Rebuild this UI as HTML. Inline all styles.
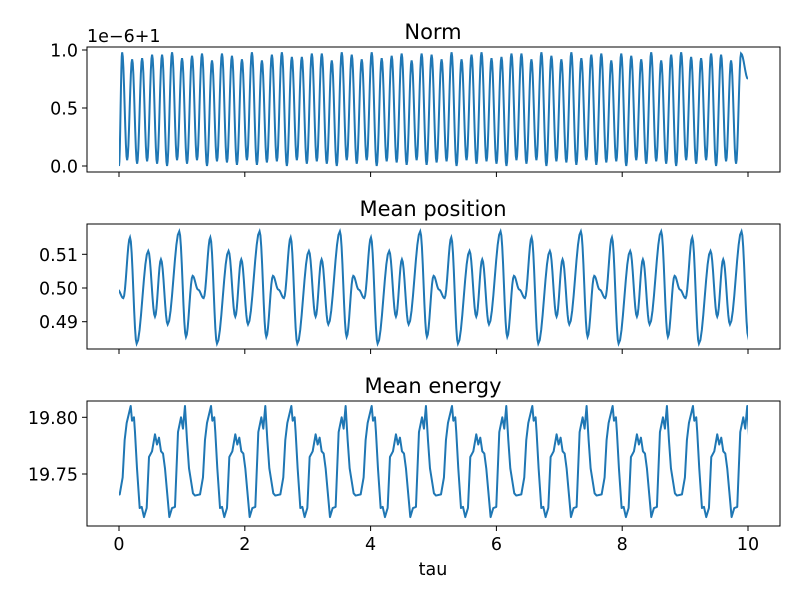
<!DOCTYPE html>
<html><head><meta charset="utf-8"><style>
body{margin:0;background:#fff}
svg{display:block;font-family:"DejaVu Sans","Liberation Sans",sans-serif}
</style></head><body>
<svg id="chart" width="800" height="600">
<defs>
<clipPath id="c1"><rect x="119" y="40" width="629" height="140"/></clipPath>
<clipPath id="c2"><rect x="119" y="220" width="629" height="140"/></clipPath>
<clipPath id="c3"><rect x="119" y="395" width="629" height="140"/></clipPath>
</defs>
</svg>
<script>
// Norm (units of 1e-6, offset +1)
const normPeaks=[0.98,0.92,0.93,0.96,0.96,0.98,0.93,0.95,0.97,0.91,0.97,0.95,0.92,0.98,0.91,0.96,0.98,0.94,0.94,0.97,0.97,0.91,0.98,0.96,0.92,0.98,0.93,0.95,0.97,0.91,0.97,0.96,0.92,0.98,0.92,0.96,0.98,0.93,0.94,0.97,0.97,0.92,0.98,0.95,0.92,0.98,0.93,0.96,0.97,0.91,0.97,0.95,0.92,0.98,0.91,0.96,0.98,0.94,0.93,0.97,0.96,0.91,0.97];
const normTroughs=[0.05,0.02,0.04,0.02,0.0,0.05,0.02,0.05,0.0,0.04,0.03,0.01,0.05,0.01,0.03,0.04,0.0,0.05,0.02,0.04,0.02,0.0,0.05,0.02,0.05,0.0,0.04,0.03,0.01,0.05,0.01,0.03,0.04,0.0,0.05,0.02,0.04,0.02,0.0,0.05,0.02,0.05,0.0,0.04,0.03,0.01,0.05,0.01,0.03,0.04,0.0,0.05,0.02,0.04,0.02,0.0,0.05,0.02,0.05,0.0,0.04,0.02];
const normStart=0.0, normEnd=0.75;
// Mean position: one repeating cycle (offset in tau, value)
const posOffsets=[0,0.107,0.213,0.397,0.504,0.599,0.706,0.890,0.997,1.103,1.19];
const posValues=[0.497,0.515,0.4835,0.511,0.4915,0.5085,0.4892,0.5168,0.4855,0.5036,0.4995];
const posCycleStarts=[-1.209,0.068,1.345,2.622,3.899,5.176,6.453,7.730,9.007,10.284];
// Mean energy: one repeating cycle
const enOffsets=[0,0.021,0.052,0.068,0.1,0.143,0.175,0.211,0.254,0.291,0.339,0.386,0.418,0.45,0.482,0.514,0.545,0.577,0.614,0.657,0.704,0.752,0.8,0.831,0.863,0.895,0.927,0.99,1.022,1.102,1.149,1.181,1.213];
const enValues=[19.81,19.797,19.80,19.787,19.755,19.72,19.721,19.712,19.72,19.765,19.77,19.785,19.776,19.782,19.77,19.768,19.755,19.735,19.712,19.72,19.721,19.787,19.80,19.79,19.81,19.78,19.755,19.733,19.731,19.732,19.747,19.78,19.795];
const enCycleStarts=[-1.091,0.186,1.463,2.740,4.017,5.294,6.571,7.848,9.125];
const xTicks=[0,2,4,6,8,10];
const normTicks=[0.0,0.5,1.0], normTickLabels=["0.0","0.5","1.0"];
const posTicks=[0.49,0.50,0.51], posTickLabels=["0.49","0.50","0.51"];
const enTicks=[19.75,19.80], enTickLabels=["19.75","19.80"];

const NS="http://www.w3.org/2000/svg", svg=document.getElementById('chart');
const L=87,R=780;
const xs=t=>119+t*62.9;
const panels=[
 {top:47,bot:172,y:v=>166-v*116,ticks:normTicks,labels:normTickLabels,title:"Norm",clip:"c1"},
 {top:224,bot:349,y:v=>288-(v-0.5)*3370,ticks:posTicks,labels:posTickLabels,title:"Mean position",clip:"c2"},
 {top:401,bot:526,y:v=>474-(v-19.75)*1134,ticks:enTicks,labels:enTickLabels,title:"Mean energy",clip:"c3"}];
function mk(tag,a,txt){const e=document.createElementNS(NS,tag);for(const k in a)e.setAttribute(k,a[k]);if(txt!=null)e.textContent=txt;svg.appendChild(e);return e;}
function smooth(pts,y){let d='';for(let i=0;i<pts.length;i++){const [t,v]=pts[i];if(i==0){d+='M'+xs(t).toFixed(2)+','+y(v).toFixed(2);continue;}const [t0,v0]=pts[i-1];for(let s=1;s<=8;s++){const f=s/8,g=(1-Math.cos(Math.PI*f))/2;d+=' L'+xs(t0+(t-t0)*f).toFixed(2)+','+y(v0+(v-v0)*g).toFixed(2);}}return d;}
function linear(pts,y){return pts.map((p,i)=>(i?'L':'M')+xs(p[0]).toFixed(2)+','+y(p[1]).toFixed(2)).join(' ');}

panels.forEach((p,pi)=>{
 const r=mk('rect',{x:L,y:p.top,width:R-L,height:p.bot-p.top,fill:'none',stroke:'#000','stroke-width':1});
 
 const t=mk('text',{x:433,y:p.top-8,'text-anchor':'middle','font-size':21},p.title);
 
 xTicks.forEach(v=>{const tk=mk('line',{x1:xs(v),x2:xs(v),y1:p.bot,y2:p.bot+5,stroke:'#000'});
  
  if(pi==2){const lb=mk('text',{x:xs(v),y:p.bot+24,'text-anchor':'middle','font-size':17.5},String(v));
   }});
 p.ticks.forEach((v,i)=>{const tk=mk('line',{x1:L-5,x2:L,y1:p.y(v),y2:p.y(v),stroke:'#000'});
  
  const lb=mk('text',{x:L-9,y:p.y(v)+6.5,'text-anchor':'end','font-size':17.5},p.labels[i]);
  });
});
const off=mk('text',{x:87,y:42,'font-size':17.5},'1e\u22126+1');

const xl=mk('text',{x:433,y:575,'text-anchor':'middle','font-size':17.5},'tau');


// norm series
const np=[[0,normStart]];
normPeaks.forEach((v,k)=>{const t=0.05+k*0.1587;np.push([t,v]);if(k<normTroughs.length)np.push([t+0.0794,normTroughs[k]]);});
np.push([10,normEnd]);
const l1=mk('path',{d:smooth(np,panels[0].y),fill:'none',stroke:'#1f77b4','stroke-width':2,'clip-path':'url(#c1)'});

// position
const pp=[];posCycleStarts.forEach(s=>posOffsets.forEach((o,i)=>pp.push([s+o,posValues[i]])));
const l2=mk('path',{d:smooth(pp,panels[1].y),fill:'none',stroke:'#1f77b4','stroke-width':2,'clip-path':'url(#c2)'});

// energy
const ep=[];enCycleStarts.forEach(s=>enOffsets.forEach((o,i)=>ep.push([s+o,enValues[i]])));
const l3=mk('path',{d:linear(ep,panels[2].y),fill:'none',stroke:'#1f77b4','stroke-width':2,'clip-path':'url(#c3)','stroke-linejoin':'round'});

</script>
</body></html>
